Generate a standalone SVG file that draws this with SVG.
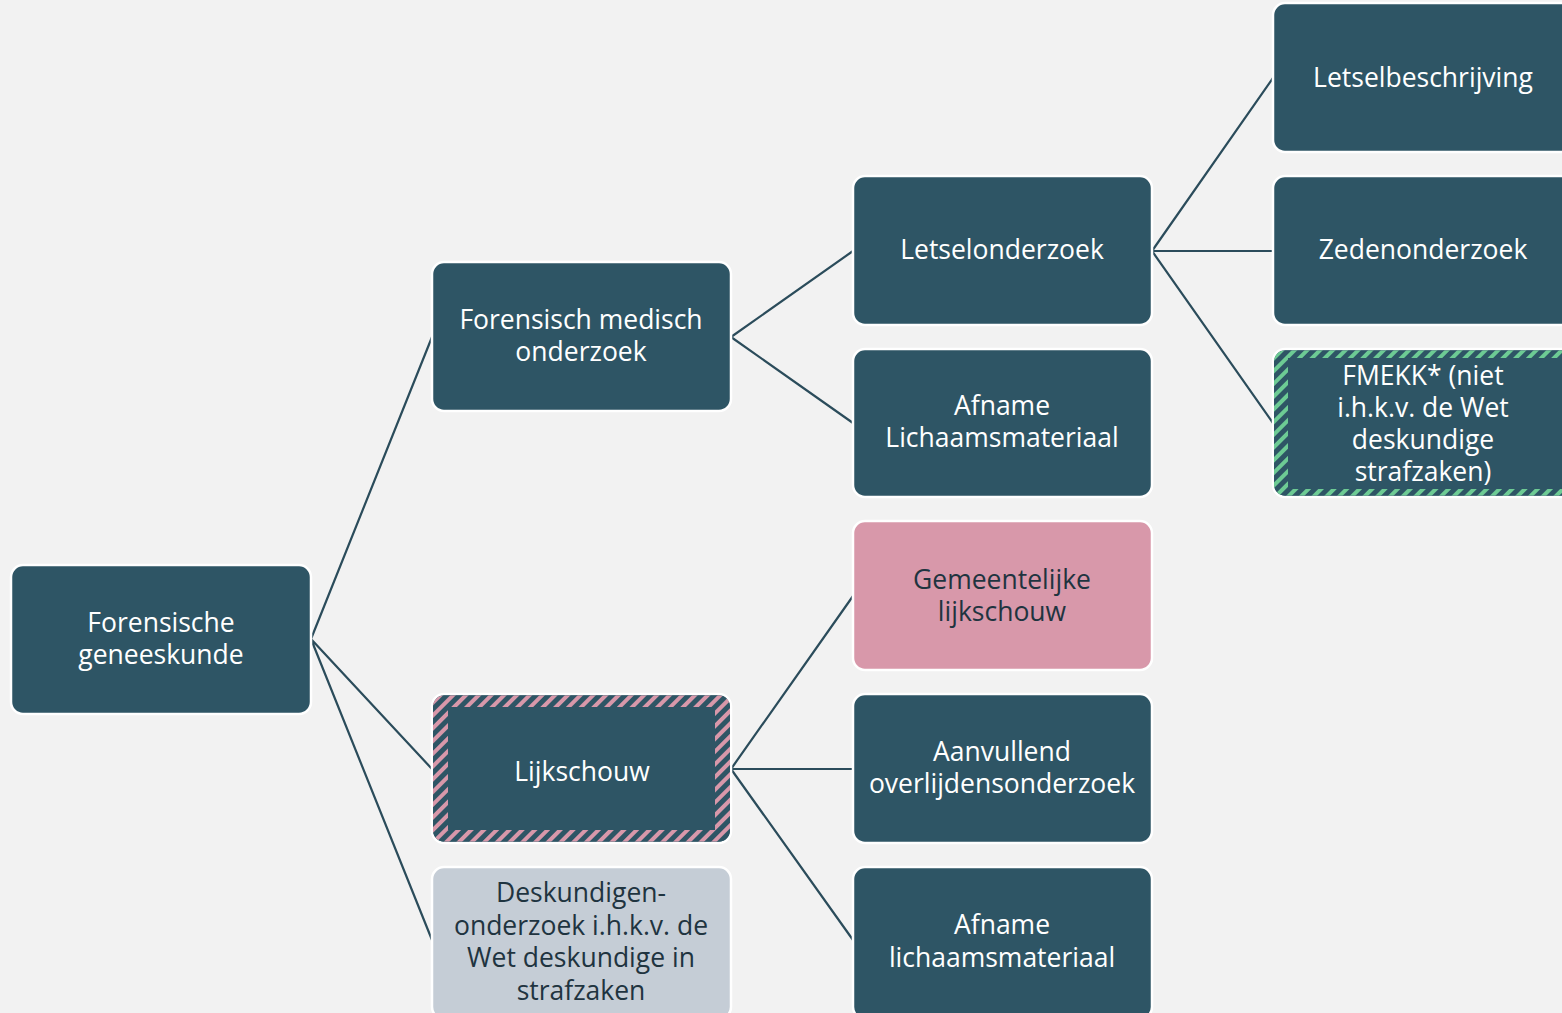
<svg xmlns="http://www.w3.org/2000/svg" width="1562" height="1013" viewBox="0 0 1562 1013">
<style>
.node{fill:#2e5565;stroke:#ffffff;stroke-width:2.5}
.pink{fill:#d898aa}
.gray{fill:#c5cdd6}
.t{font-family:"Open Sans","Noto Sans","DejaVu Sans",sans-serif;font-size:26.5px;fill:#ffffff;text-anchor:middle}
.d{fill:#1f3440}
.conn{stroke:#2b4c5b;stroke-width:2.2;fill:none}
</style>
<defs>
<pattern id="hatchPink" width="9" height="9" patternUnits="userSpaceOnUse" patternTransform="rotate(45)">
<rect width="9" height="9" fill="#2e5565"/>
<rect width="4" height="9" fill="#d898aa"/>
</pattern>
<pattern id="hatchGreen" width="9" height="9" patternUnits="userSpaceOnUse" patternTransform="rotate(45)">
<rect width="9" height="9" fill="#2e5565"/>
<rect width="4" height="9" fill="#6dcb94"/>
</pattern>
</defs>
<rect width="1562" height="1013" fill="#f2f2f2"/>
<g id="connectors">
<path class="conn" d="M311 639 L432 337 M311 639 L432 769 M311 639 L432 940"/>
<path class="conn" d="M731 337 L853 251 M731 337 L853 423"/>
<path class="conn" d="M731 769 L853 596 M731 769 L853 769 M731 769 L853 940"/>
<path class="conn" d="M1152 251 L1273 78 M1152 251 L1273 251 M1152 251 L1273 423"/>
</g>
<g id="n-forensische">
<rect class="node" x="11" y="565" width="300" height="149" rx="12"/>
<text class="t" x="161" y="632">Forensische</text>
<text class="t" x="161" y="664">geneeskunde</text>
</g>
<g id="n-fmo">
<rect class="node" x="432" y="262" width="299" height="149" rx="12"/>
<text class="t" x="581" y="329">Forensisch medisch</text>
<text class="t" x="581" y="361">onderzoek</text>
</g>
<g id="n-lijkschouw">
<rect class="node" x="432" y="694" width="299" height="149" rx="12"/>
<path fill="url(#hatchPink)" fill-rule="evenodd" d="M444 695.5 H719 A11 11 0 0 1 730 706.5 V830.5 A11 11 0 0 1 719 841.5 H444 A11 11 0 0 1 433 830.5 V706.5 A11 11 0 0 1 444 695.5 Z M448 707 V830 H715 V707 Z"/>
<text class="t" x="582" y="781">Lijkschouw</text>
</g>
<g id="n-deskundigen">
<rect class="node gray" x="432" y="867" width="299" height="152" rx="12"/>
<text class="t d" x="581" y="902">Deskundigen-</text>
<text class="t d" x="581" y="935">onderzoek i.h.k.v. de</text>
<text class="t d" x="581" y="967">Wet deskundige in</text>
<text class="t d" x="581" y="1000">strafzaken</text>
</g>
<g id="n-letselonderzoek">
<rect class="node" x="853" y="176" width="299" height="149" rx="12"/>
<text class="t" x="1002" y="259">Letselonderzoek</text>
</g>
<g id="n-afname1">
<rect class="node" x="853" y="349" width="299" height="148" rx="12"/>
<text class="t" x="1002" y="415">Afname</text>
<text class="t" x="1002" y="447">Lichaamsmateriaal</text>
</g>
<g id="n-gemeentelijke">
<rect class="node pink" x="853" y="521" width="299" height="149" rx="12"/>
<text class="t d" x="1002" y="589">Gemeentelijke</text>
<text class="t d" x="1002" y="621">lijkschouw</text>
</g>
<g id="n-aanvullend">
<rect class="node" x="853" y="694" width="299" height="149" rx="12"/>
<text class="t" x="1002" y="761">Aanvullend</text>
<text class="t" x="1002" y="793">overlijdensonderzoek</text>
</g>
<g id="n-afname2">
<rect class="node" x="853" y="867" width="299" height="152" rx="12"/>
<text class="t" x="1002" y="934">Afname</text>
<text class="t" x="1002" y="967">lichaamsmateriaal</text>
</g>
<g id="n-letselbeschrijving">
<rect class="node" x="1273" y="3" width="300" height="149" rx="12"/>
<text class="t" x="1423" y="87">Letselbeschrijving</text>
</g>
<g id="n-zeden">
<rect class="node" x="1273" y="176" width="300" height="149" rx="12"/>
<text class="t" x="1423" y="259">Zedenonderzoek</text>
</g>
<g id="n-fmekk">
<rect class="node" x="1273" y="349" width="300" height="148" rx="12"/>
<path fill="url(#hatchGreen)" fill-rule="evenodd" d="M1285 350.5 H1580 V495.5 H1285 A11 11 0 0 1 1274 484.5 V361.5 A11 11 0 0 1 1285 350.5 Z M1288 358 V489 H1600 V358 Z"/>
<text class="t" x="1423" y="385">FMEKK* (niet</text>
<text class="t" x="1423" y="417">i.h.k.v. de Wet</text>
<text class="t" x="1423" y="449">deskundige</text>
<text class="t" x="1423" y="481">strafzaken)</text>
</g>
</svg>
